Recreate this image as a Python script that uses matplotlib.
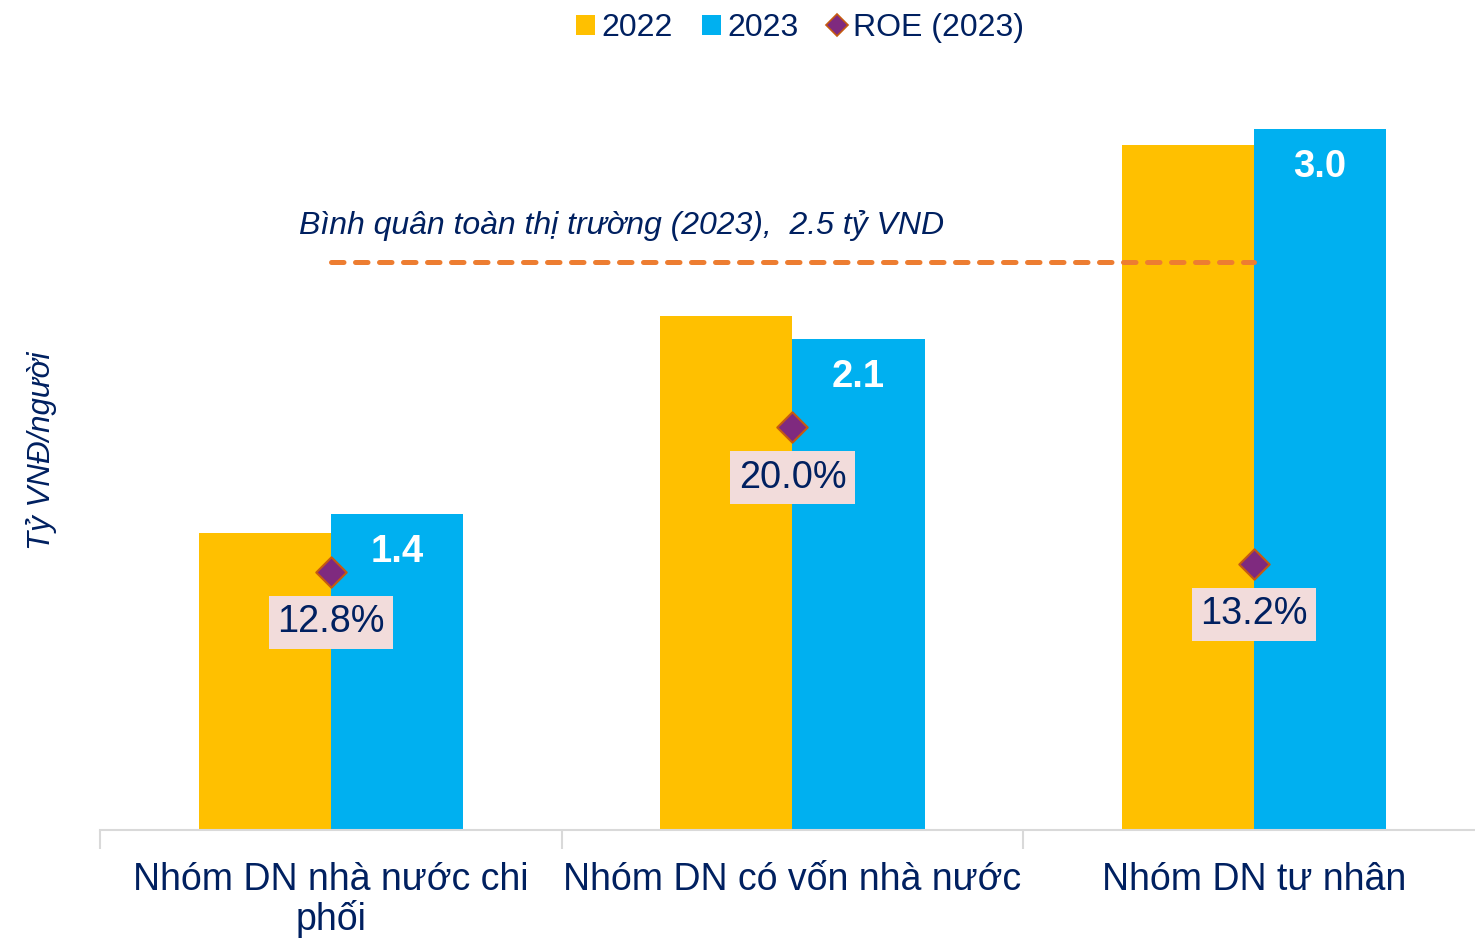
import numpy as np
import matplotlib.pyplot as plt
from matplotlib.lines import Line2D
from matplotlib.patches import Patch

plt.rcParams['font.family'] = ['Liberation Sans', 'DejaVu Sans']

categories = ["Nhóm DN nhà nước chi\nphối", "Nhóm DN có vốn nhà nước", "Nhóm DN tư nhân"]
val_2022 = [1.27, 2.20, 2.93]
val_2023 = [1.35, 2.10, 3.00]
roe_2023 = [12.8, 20.0, 13.2]
avg_market = 2.43
avg_label = "Bình quân toàn thị trường (2023),  2.5 tỷ VND"

NAVY = "#002060"
C22 = "#FFC000"
C23 = "#00B0F0"

fig = plt.figure(figsize=(14.75, 9.38), dpi=100)
ax = fig.add_axes([100 / 1475, 108 / 938, 1385 / 1475, 748 / 938])
ax2 = ax.twinx()

x = np.arange(len(categories))
w = 0.286
ax.bar(x - w / 2, val_2022, w, color=C22, zorder=2)
ax.bar(x + w / 2, val_2023, w, color=C23, zorder=2)

for xi, v in zip(x, val_2023):
    ax.text(xi + w / 2, v - 0.085, f"{v:.1f}", ha="center", va="top",
            color="white", fontsize=27.5, fontweight="bold", zorder=3)

# average line of the whole market
ax.plot([x[0], x[-1]], [avg_market, avg_market], color="#ED7D31", lw=3.6,
        ls=(0, (2.5, 2.3)), dash_capstyle="round", zorder=3)
ax.text(x[0] - 0.07, avg_market + 0.09, avg_label, ha="left", va="bottom",
        color=NAVY, fontsize=23, style="italic")

ax.set_xlim(-0.5, 2.5)
ax.set_ylim(0, 3.2)
ax2.set_ylim(0, 3.2 * 233.8 / 20.14)

ax2.scatter(x, roe_2023, marker="D", s=240, color="#7F2A7F",
            edgecolor="#C55A11", linewidth=1.5, zorder=5)
for xi, r in zip(x, roe_2023):
    ax2.text(xi, r - 1.6, f"{r:.1f}%", ha="center", va="top", color=NAVY,
             fontsize=27.3, zorder=6,
             bbox=dict(boxstyle="square,pad=0.22", fc="#F2DCDB", ec="none"))

for a in (ax, ax2):
    for s in ("top", "right", "left"):
        a.spines[s].set_visible(False)
    a.set_yticks([])
ax2.spines["bottom"].set_visible(False)
ax.spines["bottom"].set_color("#D9D9D9")
ax.spines["bottom"].set_linewidth(1.5)

ax.set_xticks(x)
ax.set_xticklabels(categories, fontsize=27, color=NAVY, linespacing=1.08)
ax.tick_params(axis="x", length=0, pad=23)
ax.set_xticks([-0.5, 0.5, 1.5, 2.5], minor=True)
ax.tick_params(axis="x", which="minor", length=14, width=1.5, color="#D9D9D9")

ax.set_ylabel("Tỷ VNĐ/người", fontsize=22.5, color=NAVY, style="italic")
ax.yaxis.set_label_coords(-0.031, 0.507)

handles = [
    Patch(facecolor=C22, edgecolor="none"),
    Patch(facecolor=C23, edgecolor="none"),
    Line2D([], [], marker="D", color="#7F2A7F", markeredgecolor="#C55A11",
           markeredgewidth=1.2, ls="none", markersize=11),
]
fig.legend(handles, ["2022", "2023", "ROE (2023)"], loc="center",
           bbox_to_anchor=(800 / 1475, 1 - 28 / 938), ncol=3, frameon=False,
           fontsize=23, labelcolor=NAVY, handlelength=0.6, handleheight=0.6,
           handletextpad=0.2, columnspacing=0.9)

fig.savefig("out.png", dpi=100)
